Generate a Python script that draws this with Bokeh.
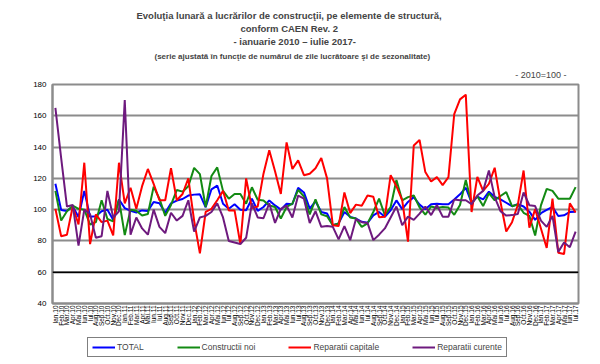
from math import pi
from bokeh.plotting import figure
from bokeh.layouts import column
from bokeh.models import FactorRange, Range1d, FixedTicker, Legend, LegendItem, Span, Title
from bokeh.embed import file_html
from bokeh.resources import INLINE

month_names = ["Ian", "Feb", "Mar", "Apr", "Mai", "Iun", "Iul", "Aug", "Sep", "Oct", "Nov", "Dec"]
years = ["10", "11", "12", "13", "14", "15", "16", "17"]
months = [m + "." + y for y in years for m in month_names][:91]

y_ticks = [40, 60, 80, 100, 120, 140, 160, 180]

total = [116.5, 99.8, 99.2, 102, 95.3, 112, 95.5, 95.8, 99, 100, 93.5, 106.5,
         101, 99.3, 98.2, 99.5, 99.2, 104.9, 104.1, 98, 104, 105.8, 106.8, 109,
         109.6, 109.8, 101.5, 113, 115.4, 103.8, 100.6, 103.4, 100, 99.6, 107, 99.2,
         101.7, 105.9, 102.7, 100, 103.8, 103.5, 113.9, 111, 100.6, 105.3, 98.5, 97.5,
         90, 91.2, 98.5, 95.4, 94.3, 92.2, 91.6, 96.4, 98.5, 95.4, 99.6, 105.9,
         100.3, 104.9, 108, 103.2, 100.3, 103.4, 103.8, 103.5, 103.4, 106.5, 109.8, 114,
         104.4, 108.3, 106.5, 111.5, 108.2, 106.6, 104.4, 102.2, 103.5, 102, 98.7, 93.5,
         97.7, 99.8, 101.7, 95.9, 96.4, 98.5, 98.7]

constructii_noi = [112, 93, 99, 102.5, 100.5, 100, 90.5, 92, 106, 94, 92.5, 106.5,
                   83.7, 100, 99.3, 96.2, 97.2, 114.7, 107, 96, 103, 112.5, 111.5, 115,
                   126.7, 122.7, 101.7, 121.5, 127, 112, 107, 110, 110, 103.8, 114.3, 106.3,
                   105.9, 102.7, 101.7, 94.3, 101.7, 103.8, 112.6, 108.4, 97, 106.5, 97, 95.8,
                   90, 91.2, 101.7, 95, 94.3, 89, 91.2, 98.5, 107, 96.4, 101.7, 119,
                   106, 108, 109, 101.5, 96.8, 102, 101, 101.7, 101.3, 96.7, 103, 119,
                   104, 108.5, 102.3, 110.5, 106, 108.7, 111.2, 102.2, 103.3, 98, 96, 83.5,
                   102.7, 113.3, 112, 107, 107, 107, 114.4]

reparatii_capitale = [100.5, 83, 84, 102, 90.5, 130, 78, 97, 92, 93, 83.5, 130,
                      104, 114, 100.5, 115, 126, 116.5, 106, 106, 126.5, 106, 110, 120,
                      93, 72, 98.5, 100.5, 106, 112, 99.5, 99.5, 78, 120, 101, 102,
                      123, 138, 124.5, 110, 143, 126, 131.5, 122, 123, 126.5, 133, 120,
                      90, 89.5, 111, 97.8, 103.2, 102.5, 109, 108.2, 95.2, 95.5, 122, 115,
                      106, 79.5, 141, 144.5, 124, 118, 120.8, 115.7, 120.8, 161, 170.5, 173.5,
                      98.5, 121, 112, 116.5, 126.8, 105, 86, 92, 103, 125, 88.5, 100.3,
                      88, 75.5, 107, 72.5, 71.6, 104, 98.2]

reparatii_curente = [165, 133, 102, 103, 77, 100, 97, 82, 83, 112, 95, 99,
                     170, 84, 95, 88, 84, 100, 89, 85, 98, 93, 96, 106,
                     86, 95, 96, 98.5, 104, 95, 80, 79, 78, 82, 104, 95,
                     94.5, 104, 91.5, 100.5, 102.5, 95, 109, 107, 91.5, 99, 89, 89.5,
                     89, 81, 89.5, 80.5, 94, 92, 91.5, 80.5, 84, 88, 95, 102,
                     90, 95.5, 93.5, 97.5, 102, 96.5, 103, 95.5, 95.5, 106.5, 106, 106,
                     103.5, 109, 112, 125, 108, 99, 96.2, 96.5, 97.2, 111, 102.8, 102.3,
                     93, 89, 96, 73, 79, 76, 86]

series_names = ["TOTAL", "Constructii noi", "Reparatii capitale", "Reparatii curente"]
series_colors = ["#0000ff", "#138a13", "#ff0000", "#6e1a7e"]
series_values = [total, constructii_noi, reparatii_capitale, reparatii_curente]

FONT = "Liberation Sans"

# ---------------- main chart ----------------
p = figure(width=600, height=332,
           x_range=FactorRange(*months, range_padding=0),
           y_range=Range1d(40, 180),
           output_backend="svg", toolbar_location=None,
           min_border_left=52, min_border_right=22,
           min_border_top=84, min_border_bottom=29)

p.background_fill_color = "white"
p.border_fill_color = "white"
p.outline_line_color = "#8c8c8c"
p.outline_line_width = 2

p.xgrid.grid_line_color = None
p.ygrid.grid_line_color = "#8c8c8c"
p.ygrid.grid_line_width = 2
p.yaxis.ticker = FixedTicker(ticks=y_ticks)

for ax in (p.xaxis[0], p.yaxis[0]):
    ax.axis_line_color = "#8c8c8c"
    ax.axis_line_width = 2
    ax.major_tick_line_color = None
    ax.minor_tick_line_color = None
    ax.major_tick_out = 0
    ax.major_tick_in = 0
    ax.major_label_text_font = FONT
    ax.major_label_text_color = "black"

p.yaxis.major_label_text_font_size = "8px"
p.yaxis.major_label_standoff = 6
p.xaxis.major_label_text_font_size = "6.5px"
p.xaxis.major_label_orientation = pi / 2
p.xaxis.major_label_standoff = 2

p.add_layout(Span(location=60, dimension="width", line_color="black", line_width=1.5))

for name, color, vals in zip(series_names, series_colors, series_values):
    p.line(x=months, y=vals, line_color=color, line_width=2)

# titles (stacked from the plot frame upward)
p.add_layout(Title(text="- 2010=100 -", align="right", offset=12, standoff=9,
                   text_font=FONT, text_font_size="9px", text_font_style="normal"), "above")
title_lines = [
    ("(serie ajustată în funcţie de numărul de zile lucrătoare şi de sezonalitate)", "8px", 6, 102),
    ("- ianuarie 2010 – iulie 2017-", "9.5px", 0, 181),
    ("conform CAEN Rev. 2", "9.5px", 0, 188),
    ("Evoluţia lunară a lucrărilor de construcţii, pe elemente de structură,", "9.5px", 0, 84),
]
for txt, fs, so, off in title_lines:
    p.add_layout(Title(text=txt, align="left", offset=off, standoff=so,
                       text_font=FONT, text_font_size=fs, text_font_style="bold"), "above")

# ---------------- legend strip ----------------
lg = figure(width=600, height=32,
            x_range=FactorRange(*months, range_padding=0),
            y_range=Range1d(0, 1),
            output_backend="svg", toolbar_location=None,
            x_axis_location=None, y_axis_location=None,
            min_border_left=0, min_border_right=0,
            min_border_top=0, min_border_bottom=0)
lg.outline_line_color = None
lg.xgrid.grid_line_color = None
lg.ygrid.grid_line_color = None
lg.background_fill_color = "white"
lg.border_fill_color = "white"

leg_renderers = []
for name, color, vals in zip(series_names, series_colors, series_values):
    leg_renderers.append(lg.line(x=months, y=vals, line_color=color, line_width=2))

legend = Legend(items=[LegendItem(label=n, renderers=[r]) for n, r in zip(series_names, leg_renderers)],
                orientation="horizontal", location=(35, 7),
                padding=4, spacing=33, glyph_width=23, glyph_height=10,
                label_standoff=2, label_text_font=FONT, label_text_font_size="8.5px",
                border_line_color="black", border_line_width=1,
                background_fill_color="white", background_fill_alpha=1,
                margin=0)
lg.add_layout(legend)

layout = column(p, lg, spacing=0)

open("out.html", "w").write(file_html(layout, INLINE))
